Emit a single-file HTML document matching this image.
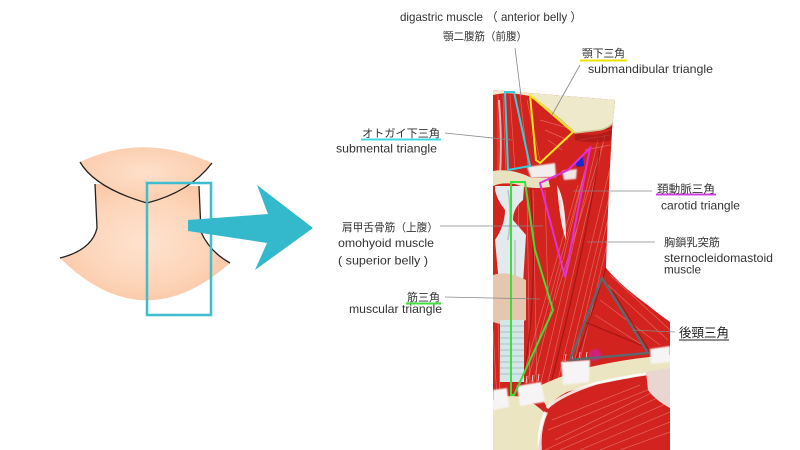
<!DOCTYPE html>
<html><head><meta charset="utf-8"><style>
html,body{margin:0;padding:0;background:#fff;}
svg{display:block;}
text{font-family:"Liberation Sans","Noto Sans CJK JP",sans-serif;fill:#333;}
</style></head><body>
<svg width="800" height="450" viewBox="0 0 800 450" xmlns="http://www.w3.org/2000/svg">
<defs>
<radialGradient id="skin" cx="0.5" cy="0.5" r="0.6">
<stop offset="0" stop-color="#fee2cf"/><stop offset="0.6" stop-color="#fdd5b9"/><stop offset="1" stop-color="#f9c4a2"/>
</radialGradient>
<radialGradient id="chin" cx="0.5" cy="0.45" r="0.6">
<stop offset="0" stop-color="#fedfcb"/><stop offset="1" stop-color="#fbcba9"/>
</radialGradient>
<clipPath id="fig"><path d="M493,90 L615,100 L612,130 Q608,200 606,268 Q620,285 645,303 Q660,315 670,322 L670,450 L493,450 Z"/></clipPath>
<filter id="soft" x="-20%" y="-20%" width="140%" height="140%"><feGaussianBlur stdDeviation="0.9"/></filter>
</defs>

<!-- Left neck illustration -->
<path d="M95,184 L97,228 Q92,250 60,258 Q143,340 230,263 Q210,252 201,232 L199,186 Z" fill="url(#skin)"/>
<path d="M80,162 Q143,132 212,163 Q190,192 147,203 Q95,188 80,162 Z" fill="url(#chin)"/>
<g fill="none" stroke="#222" stroke-width="1.3">
<path d="M80,162 Q95,188 147,203 Q190,192 212,163"/>
<path d="M95,184 L97,228 Q92,250 60,258"/>
<path d="M199,186 L201,232 Q210,252 230,263"/>
</g>
<rect x="147" y="183" width="64" height="132" fill="none" stroke="#3ebdd0" stroke-width="2.5"/>
<polygon points="188,220 268,214 257,185 313,228 255,270 267,243 188,231" fill="#34b9cc"/>

<!-- Anatomical figure -->
<g clip-path="url(#fig)">
<rect x="490" y="85" width="185" height="370" fill="#d2231e"/>
<!-- texture -->
<g stroke="#f7a89e" stroke-opacity="0.5" stroke-width="0.7" fill="none">
<path d="M498,95 L498,180 M503,95 L506,175 M510,95 L515,170 M520,95 L528,165 M527,100 L540,160"/>
<path d="M540,120 L575,130 M545,130 L568,140 M548,140 L562,150 M580,140 L610,135 M585,150 L610,145"/>
<path d="M605,135 L545,395 M598,140 L538,395 M590,150 L530,395 M612,160 L555,392 M612,185 L563,388 M610,210 L570,380 M585,170 L525,390 M578,185 L522,380 M608,240 L580,360 M604,140 L555,300"/>
<path d="M527,190 L530,390 M533,190 L537,390 M518,190 L520,290 M545,190 L548,300"/>
<path d="M610,275 L670,330 M608,285 L668,340 M600,300 L660,345 M595,315 L650,350 M620,280 L670,318"/>
<path d="M545,450 L670,392 M560,450 L670,402 M580,450 L670,412 M600,450 L670,422 M620,450 L670,432 M548,430 L660,385 M555,440 L670,384 M552,420 L640,385"/>
<path d="M493,330 L497,400 M498,320 L500,395"/>
</g>
<path d="M499,100 Q502,140 500,175" stroke="#f3d8d8" stroke-width="2" fill="none" opacity="0.8"/>
<!-- dark separations -->
<g stroke="#8e1212" stroke-opacity="0.7" stroke-width="1.2" fill="none">
<path d="M600,150 Q585,250 548,395"/>
<path d="M606,268 Q590,320 575,362"/>
<path d="M612,290 L650,352"/>
<path d="M585,322 L648,348"/>
<path d="M575,133 L612,128"/>
<path d="M530,180 Q540,300 520,395"/>
</g>
<path d="M575,133 Q595,138 612,130 L612,140 Q595,145 575,140 Z" fill="#9e1515" opacity="0.6"/>
<!-- jaw bone -->
<path d="M493,88 Q503,82 515,82 Q560,84 618,95 Q621,110 615,120 Q610,128 600,130 L575,133 Q555,113 530,96 L518,94 Q505,92 493,95 Z" fill="#efe9cb"/>
<path d="M618,95 Q621,110 615,120 Q610,128 600,130 L575,133 Q555,113 530,96" fill="none" stroke="#cfc394" stroke-width="1.5"/>
<!-- hyoid -->
<path d="M493,171 Q512,168 532,178 L548,178 L550,187 Q530,190 515,184 Q502,182 493,186 Z" fill="#e9e2c0"/>
<g filter="url(#soft)">
<path d="M527,167 L555,163 L556,177 L531,178 Z" fill="#f2eeee"/>
<path d="M562,171 L577,169 L576,179 L564,180 Z" fill="#f0e6e6"/>
</g>
<path d="M557,185 Q566,200 566,240 Q560,225 557,185 Z" fill="#f3e6e6"/>
<!-- thyroid cartilage -->
<path d="M495,186 L524,186 L523,200 Q513,208 513,220 L526,235 L523,284 L499,284 L495,240 Q505,225 505,210 Q497,200 495,190 Z" fill="#e3eaee"/>
<path d="M508,190 Q512,215 508,240 M515,240 L515,280" stroke="#b6c2ca" stroke-width="1.5" fill="none"/>
<!-- thyroid gland -->
<path d="M493,275 Q507,270 526,280 L526,320 Q510,328 493,322 Z" fill="#e6c6ae"/>
<!-- trachea -->
<rect x="500" y="320" width="24" height="62" fill="#d3e6e8"/>
<g stroke="#9fb5b8" stroke-width="0.8">
<path d="M500,326 H524 M500,332 H524 M500,338 H524 M500,344 H524 M500,350 H524 M500,356 H524 M500,362 H524 M500,368 H524 M500,374 H524"/>
</g>
<!-- sternum + clavicle -->
<path d="M493,400 Q508,394 522,397 Q536,404 546,414 Q540,432 538,450 L493,450 Z" fill="#ebe5c2"/>
<path d="M537,387 Q560,376 590,367 Q630,358 670,355 L670,374 Q640,374 630,378 Q600,382 567,392 Q555,398 547,408 Z" fill="#ebe5c2"/>
<path d="M646,372 L670,368 L670,408 Q655,400 648,390 Z" fill="#e9d6d0"/>
<path d="M547,408 Q560,395 597,383 Q630,376 646,374" fill="none" stroke="#fff" stroke-width="3" stroke-opacity="0.85"/>
<path d="M546,412 Q538,430 540,450" fill="none" stroke="#fff" stroke-width="4" stroke-opacity="0.8"/>
<!-- white tendons -->
<g filter="url(#soft)" fill="#f6f4f4">
<path d="M493,390 L507,388 L509,407 L493,410 Z"/>
<path d="M517,386 L541,382 L545,402 L520,406 Z"/>
<path d="M561,362 L590,360 L589,382 L563,385 Z"/>
<path d="M650,349 L670,346 L670,362 L651,364 Z"/>
</g>
<g stroke="#fff" stroke-width="0.8" opacity="0.9">
<path d="M520,384 L522,378 M526,383 L527,376 M532,382 L533,375 M538,381 L539,374 M565,361 L566,354 M572,360 L573,353 M579,360 L580,352 M586,359 L587,352"/>
</g>
<!-- pink in posterior triangle -->
<ellipse cx="595" cy="355" rx="6" ry="6" fill="#d0207a"/>
<!-- blue small -->
<path d="M575,162 L583,157 L584,166 L577,167 Z" fill="#1a2ad0"/>
</g>

<!-- colored outlines -->
<g fill="none" stroke-width="2" stroke-linejoin="miter">
<polygon points="505,92 514,92 530,166 508,170" stroke="#30d0e0"/>
<polygon points="530,95 573,132 540,163 536,160" stroke="#ffe81a"/>
<polygon points="540,183 568,170 590,148 565,277" stroke="#e030e0"/>
<polygon points="511,182 525,182 535,250 540,267 553,310 514,395 511,395" stroke="#38e038"/>
<polygon points="602,278 648,353 570,360" stroke="#5f676c" stroke-width="2.5"/>
</g>

<!-- leader lines -->
<g stroke="#888" stroke-width="0.8" fill="none">
<path d="M515,48 L521,96"/>
<path d="M580,65 L552,115"/>
<path d="M445,133 L512,140"/>
<path d="M440,226 L543,226"/>
<path d="M445,297 L540,299"/>
<path d="M573,191 L652,191"/>
<path d="M587,242 L655,242"/>
<path d="M633,330 L675,332"/>
</g>

<!-- underlines -->
<path d="M580,60.5 H627" stroke="#f0e000" stroke-width="2"/>
<path d="M361,139.5 H441" stroke="#40d8e0" stroke-width="2"/>
<path d="M406,303.5 H441" stroke="#40e040" stroke-width="2"/>
<path d="M656,194.5 H716" stroke="#d040e0" stroke-width="2"/>
<path d="M679,340 H729" stroke="#222" stroke-width="1"/>

<!-- labels -->
<text x="400" y="21" font-size="12" textLength="182" lengthAdjust="spacingAndGlyphs">digastric muscle （ anterior belly ）</text>
<text x="443" y="40" font-size="11" textLength="84" lengthAdjust="spacingAndGlyphs">顎二腹筋（前腹）</text>
<text x="582" y="57" font-size="11" textLength="43" lengthAdjust="spacingAndGlyphs">顎下三角</text>
<text x="588" y="73" font-size="12" textLength="125" lengthAdjust="spacingAndGlyphs">submandibular triangle</text>
<text x="362" y="137" font-size="11" textLength="78" lengthAdjust="spacingAndGlyphs">オトガイ下三角</text>
<text x="336" y="152.5" font-size="12" textLength="101" lengthAdjust="spacingAndGlyphs">submental triangle</text>
<text x="342" y="231" font-size="11" textLength="96" lengthAdjust="spacingAndGlyphs">肩甲舌骨筋（上腹）</text>
<text x="338" y="247" font-size="12" textLength="96" lengthAdjust="spacingAndGlyphs">omohyoid muscle</text>
<text x="338" y="264.5" font-size="12" textLength="90" lengthAdjust="spacingAndGlyphs">( superior belly )</text>
<text x="407" y="301" font-size="11" textLength="33" lengthAdjust="spacingAndGlyphs">筋三角</text>
<text x="349" y="313" font-size="12" textLength="93" lengthAdjust="spacingAndGlyphs">muscular triangle</text>
<text x="657" y="192.5" font-size="11" textLength="58" lengthAdjust="spacingAndGlyphs">頚動脈三角</text>
<text x="661" y="209.5" font-size="12" textLength="79" lengthAdjust="spacingAndGlyphs">carotid triangle</text>
<text x="664" y="246" font-size="11" textLength="56" lengthAdjust="spacingAndGlyphs">胸鎖乳突筋</text>
<text x="664" y="262" font-size="12" textLength="109" lengthAdjust="spacingAndGlyphs">sternocleidomastoid</text>
<text x="664" y="273.5" font-size="12" textLength="37" lengthAdjust="spacingAndGlyphs">muscle</text>
<text x="679" y="337" font-size="12.5" textLength="50" lengthAdjust="spacingAndGlyphs" style="fill:#222">後頸三角</text>
</svg>
</body></html>
